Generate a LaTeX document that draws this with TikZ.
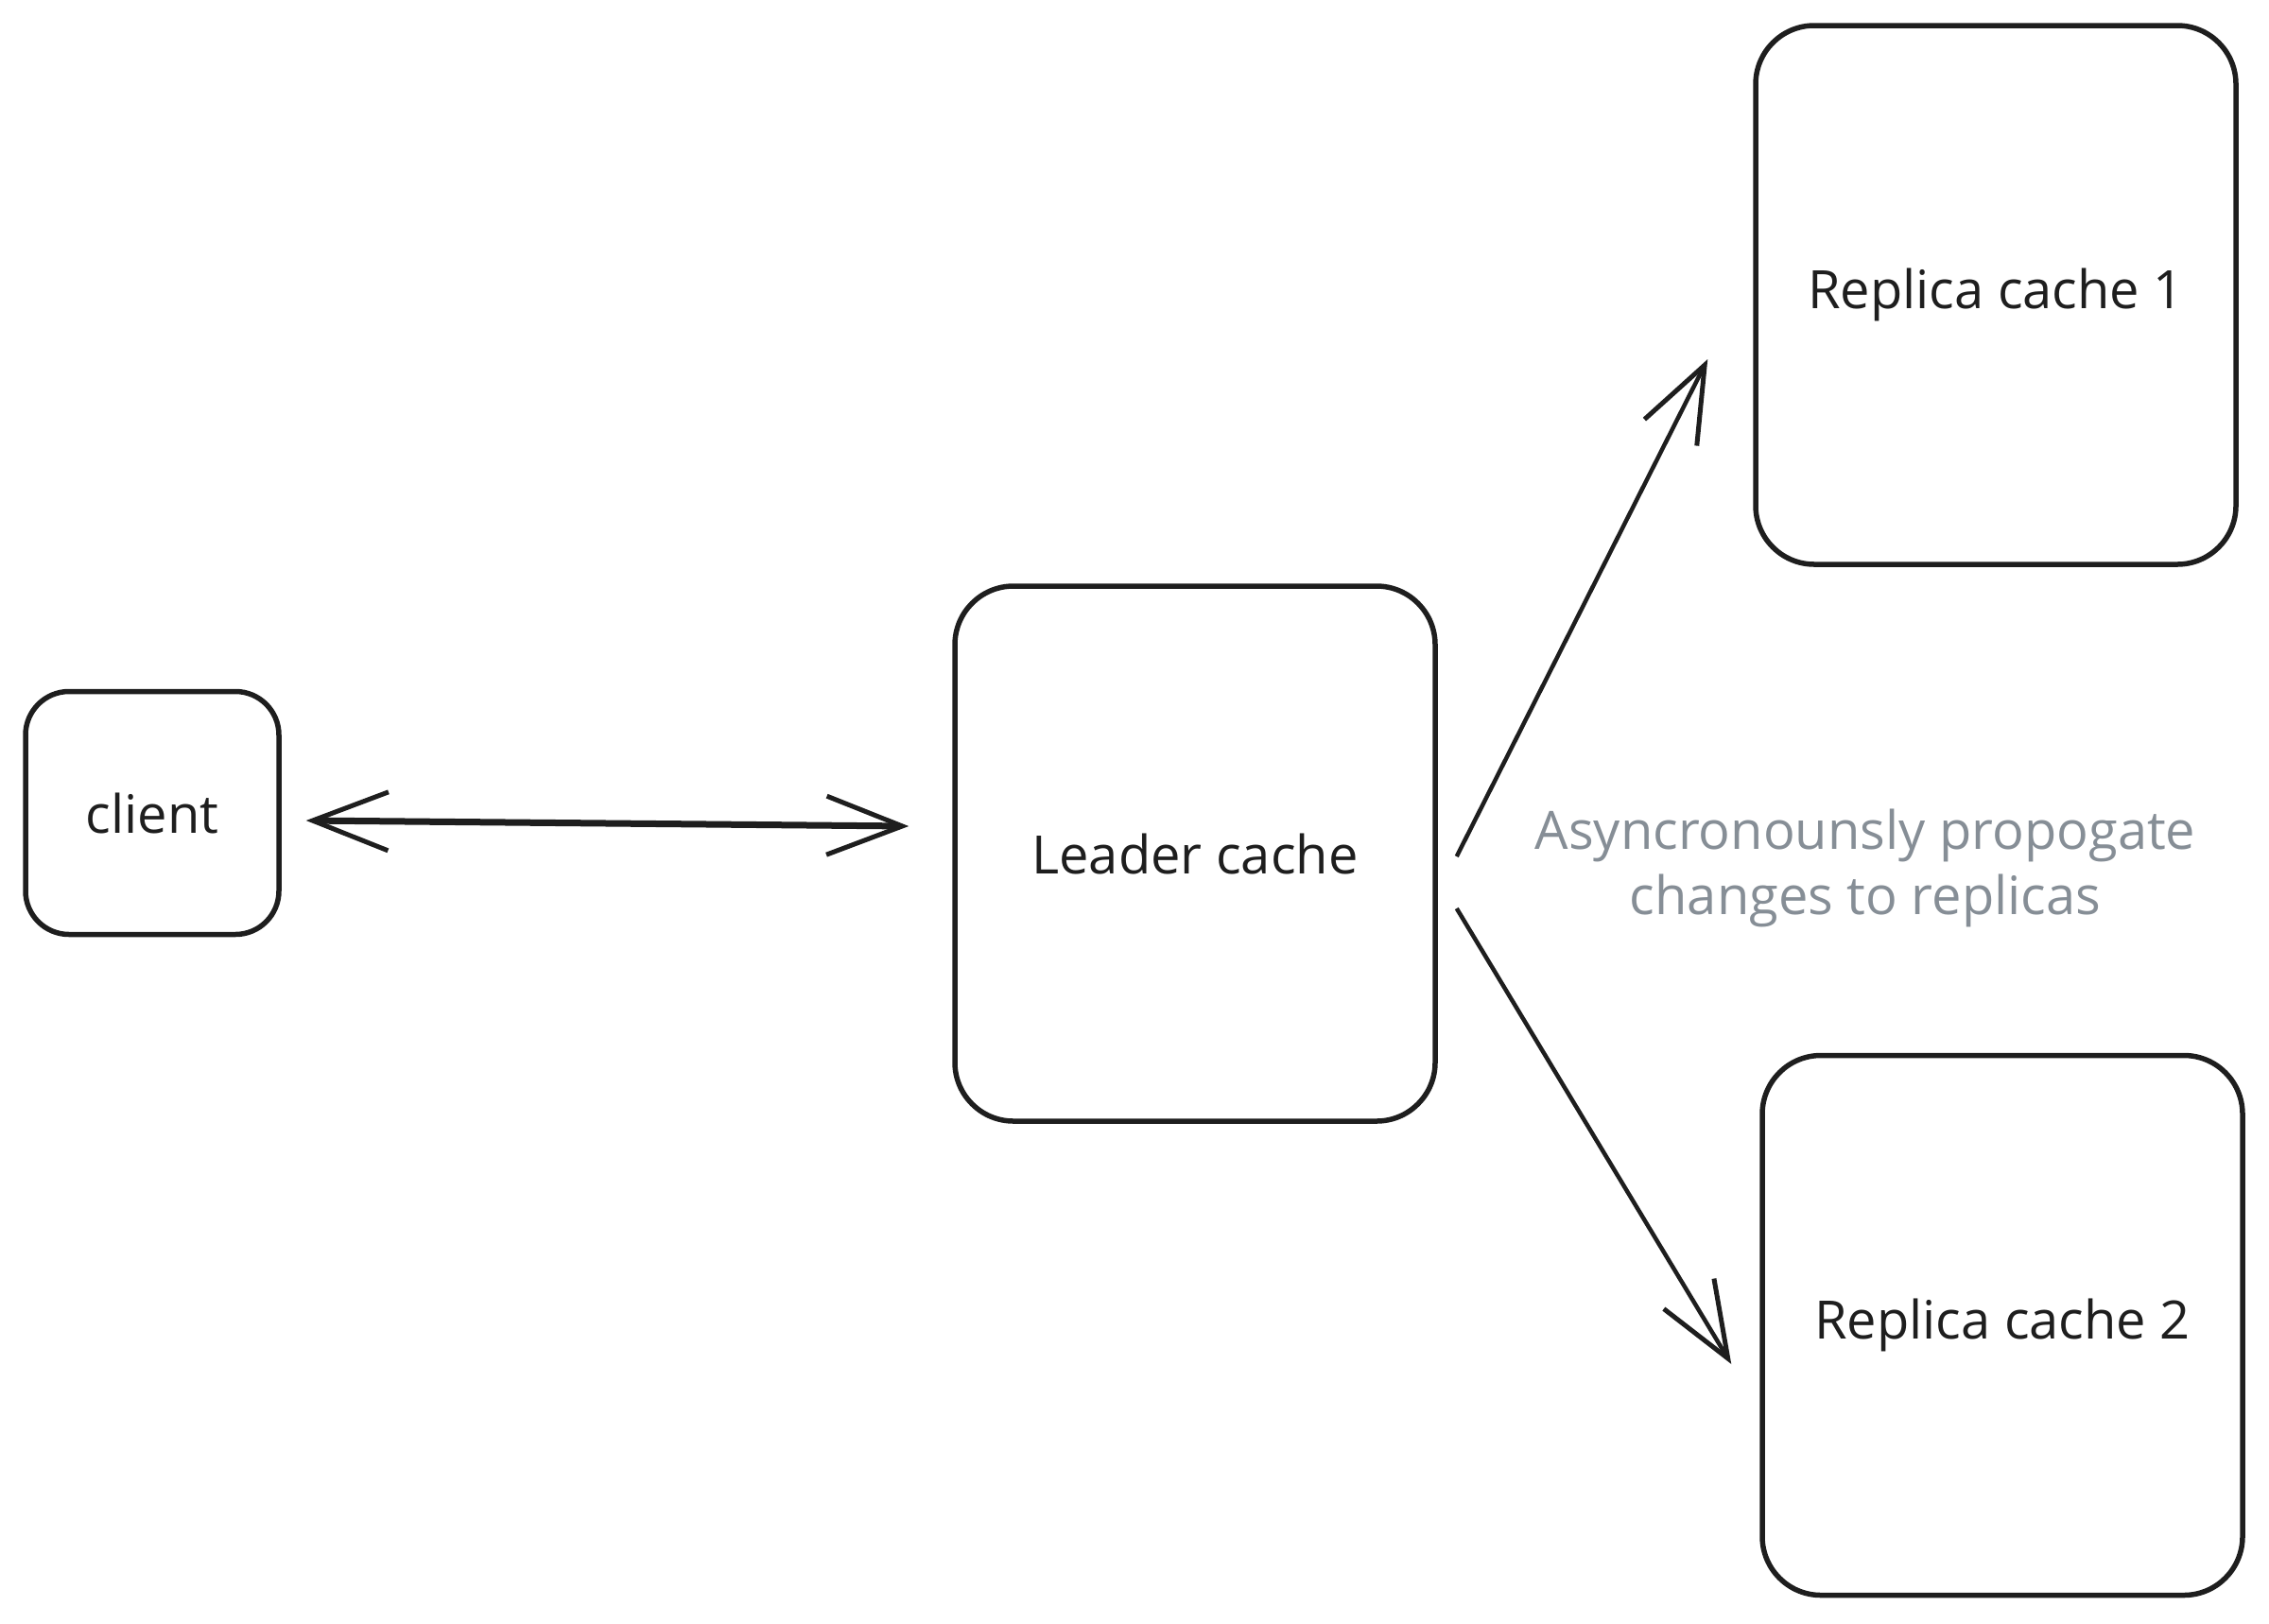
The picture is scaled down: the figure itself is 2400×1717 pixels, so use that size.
\documentclass[tikz,border=0pt]{standalone}
\usepackage{fontspec}
\setmainfont{Open Sans}
\usetikzlibrary{arrows.meta,calc}
\definecolor{ink}{HTML}{1E1E1E}
\definecolor{note}{HTML}{868E96}
\begin{document}
\begin{tikzpicture}[x=1pt,y=-1pt,
  box/.style={draw=ink, line width=5.5pt, rounded corners=62pt, inner sep=0pt,
    minimum width=508pt, font=\fontsize{56}{66}\selectfont, text=ink},
  smallbox/.style={box, rounded corners=46pt, minimum width=268pt, minimum height=257pt},
  arr/.style={draw=ink, line width=4.5pt,
    arrows={-Straight Barb[length=80pt, width=62pt, line width=5pt]}},
  note/.style={text=note, align=center, font=\fontsize{56}{69}\selectfont}]
\useasboundingbox (0,0) rectangle (2400,1717);
\node[smallbox] (client) at (161,860) {client};
\node[box, minimum height=566pt] (leader) at (1264,903) {Leader cache};
\node[box, minimum height=570pt] (rep1) at (2111,312) {Replica cache 1};
\node[box, minimum height=571pt] (rep2) at (2118,1402) {Replica cache 2};
\draw[draw=ink, line width=7pt,
  arrows={Straight Barb[length=80pt, width=62pt, line width=5pt]-Straight Barb[length=80pt, width=62pt, line width=5pt]}]
  ($(client.east)+(26,8)$) -- ($(leader.west)+(-46,-29)$);
\draw[arr] ($(leader.east)+(20,3)$) -- ($(rep1.west)+(-48,68)$);
\draw[arr] ($(leader.east)+(20,58)$) -- ($(rep2.west)+(-30,41)$);
\node[note] (lbl) at (1973,918) {Asyncronounsly propogate\\changes to replicas};
\end{tikzpicture}
\end{document}
